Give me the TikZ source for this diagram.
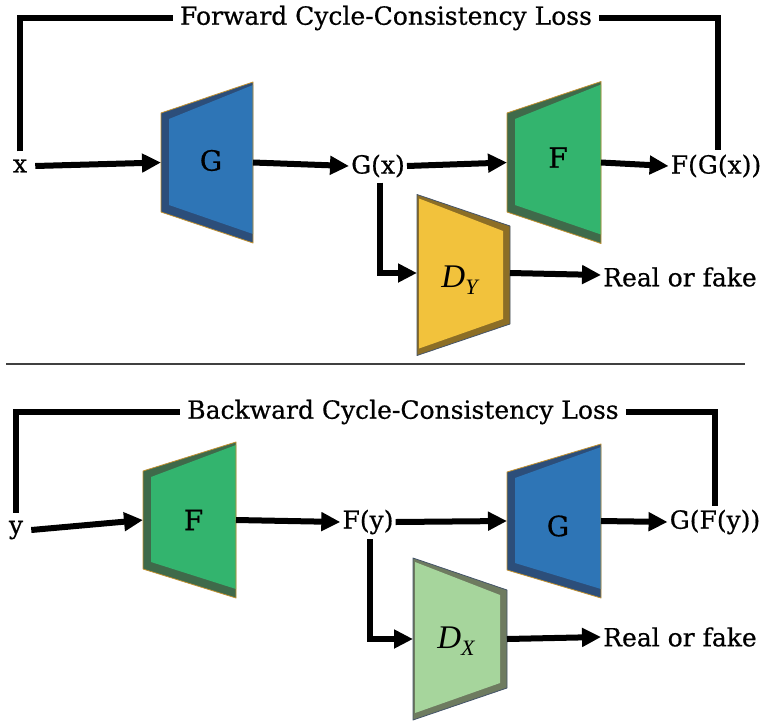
\documentclass[tikz,border=0pt]{standalone}
\usepackage{fontspec}
\setmainfont[FakeBold=0.6]{DejaVu Serif}
\newfontfamily\symfont{Liberation Serif}
\usetikzlibrary{arrows.meta}

\definecolor{genblue}{HTML}{2E75B6}
\definecolor{genblueband}{HTML}{2C4E7A}
\definecolor{gengreen}{HTML}{33B46E}
\definecolor{gengreenband}{HTML}{3F6A4A}
\definecolor{discyellow}{HTML}{F2C23C}
\definecolor{discyellowband}{HTML}{8C6E26}
\definecolor{disclight}{HTML}{A6D59C}
\definecolor{disclightband}{HTML}{6E7B60}
\definecolor{goldedge}{HTML}{C09030}
\definecolor{slateedge}{HTML}{44546A}

% italic D with a lowered subscript letter
\newcommand{\discname}[1]{{\symfont\itshape D\raisebox{-7pt}{\fontsize{22}{24}\selectfont #1}}}

% generator block: narrow on the left, wide on the right
% #1 name, #2 left x, #3 right x, #4 centre y, #5 left half height,
% #6 right half height, #7 face colour, #8 band colour, #9 edge colour
\newcommand{\genblock}[9]{%
  \fill[#8] (#2,#4-#5) -- (#3,#4-#6) -- (#3,#4+#6) -- (#2,#4+#5) -- cycle;
  \fill[#7] (#2+8,#4-#5+6) -- (#3,#4-#6+3) -- (#3,#4+#6-9) -- (#2+8,#4+#5-7) -- cycle;
  \draw[#9,line width=0.8pt,line join=round] (#2,#4-#5) -- (#3,#4-#6) -- (#3,#4+#6) -- (#2,#4+#5) -- cycle;
  \coordinate (#1-w) at (#2,#4);
  \coordinate (#1-e) at (#3,#4);
  \coordinate (#1-c) at (#2/2+#3/2+4,#4);
}
% discriminator block: wide on the left, narrow on the right
\newcommand{\discblock}[9]{%
  \fill[#8] (#2,#4-#5) -- (#3,#4-#6) -- (#3,#4+#6) -- (#2,#4+#5) -- cycle;
  \fill[#7] (#2+2,#4-#5+4) -- (#3-7,#4-#6+5) -- (#3-7,#4+#6-5) -- (#2+2,#4+#5-7) -- cycle;
  \draw[#9,line width=0.8pt,line join=round] (#2,#4-#5) -- (#3,#4-#6) -- (#3,#4+#6) -- (#2,#4+#5) -- cycle;
  \coordinate (#1-w) at (#2,#4);
  \coordinate (#1-e) at (#3,#4);
  \coordinate (#1-c) at (#2/2+#3/2-4,#4);
}

\begin{document}
\begin{tikzpicture}[x=1pt,y=-1pt,
  lbl/.style={font=\fontsize{25}{29}\selectfont, inner sep=2pt},
  blk/.style={font=\fontsize{28}{32}\selectfont, inner sep=0pt},
  dlbl/.style={font=\fontsize{33}{37}\selectfont, inner sep=0pt},
  ttl/.style={font=\fontsize{25}{29}\selectfont, inner sep=7pt},
  flow/.style={line width=6pt, -{Triangle[length=19pt,width=18pt]}},
  bracket/.style={line width=6pt, line join=miter},
  sep/.style={draw=black!75, line width=1.5pt}]
\useasboundingbox (0,0) rectangle (765,720);

% ---------- forward cycle ----------
\genblock{gA}{161}{253}{162.5}{49.5}{80.5}{genblue}{genblueband}{goldedge}
\genblock{fA}{507}{601}{162.5}{49.5}{81}{gengreen}{gengreenband}{goldedge}
\discblock{dy}{417}{510}{275}{80.5}{49}{discyellow}{discyellowband}{slateedge}

\node[blk] (gAl) at ([yshift=2pt]gA-c) {G};
\node[blk] (fAl) at ([yshift=5pt]fA-c) {F};
\node[dlbl] (dyl) at ([yshift=-5pt]dy-c) {\discname{Y}};

\node[lbl] (x) at (20,166) {x};
\node[lbl] (gx) at (378,166) {G(x)};
\node[lbl] (fgx) at (716,166) {F(G(x))};
\node[lbl] (rfA) at (680,277) {Real or fake};
\node[ttl] (ttlA) at (386,18) {Forward Cycle-Consistency Loss};

\draw[flow] ([xshift=6pt]x.east) -- (gA-w);
\draw[flow] (gA-e) -- (gx.west);
\draw[flow] (gx.east) -- (fA-w);
\draw[flow] (fA-e) -- (fgx.west);
\draw[flow] ([xshift=2pt,yshift=-3pt]gx.south) |- ([yshift=2pt]dy-w);
\draw[flow] ([yshift=2pt]dy-e) -- ([yshift=2pt]rfA.west);
\draw[bracket] ([yshift=6pt]x.north) |- (ttlA.west);
\draw[bracket] (ttlA.east) -| ([xshift=2pt,yshift=2pt]fgx.north);

% ---------- separator ----------
\coordinate (sepL) at (6,364);
\coordinate (sepR) at (745,364);
\draw[sep] (sepL) -- (sepR);

% ---------- backward cycle ----------
\genblock{fB}{143}{236}{520}{49}{78}{gengreen}{gengreenband}{goldedge}
\genblock{gB}{507}{601}{521}{49}{77}{genblue}{genblueband}{goldedge}
\discblock{dx}{413}{507}{639}{81}{49}{disclight}{disclightband}{slateedge}

\node[blk] (fBl) at (fB-c) {F};
\node[blk] (gBl) at ([yshift=-5pt]gB-c) {G};
\node[dlbl] (dxl) at ([yshift=-2pt]dx-c) {\discname{X}};

\node[lbl] (y) at (16,530) {y};
\node[lbl] (fy) at (368,522) {F(y)};
\node[lbl] (gfy) at (715,522) {G(F(y))};
\node[lbl] (rfB) at (680,637) {Real or fake};
\node[ttl] (ttlB) at (403,412) {Backward Cycle-Consistency Loss};

\draw[flow] ([xshift=6pt]y.east) -- (fB-w);
\draw[flow] (fB-e) -- (fy.west);
\draw[flow] (fy.east) -- (gB-w);
\draw[flow] (gB-e) -- (gfy.west);
\draw[flow] ([xshift=2pt,yshift=-3pt]fy.south) |- (dx-w);
\draw[flow] (dx-e) -- (rfB.west);
\draw[bracket] ([yshift=6pt]y.north) |- (ttlB.west);
\draw[bracket] (ttlB.east) -| ([yshift=2pt]gfy.north);
\end{tikzpicture}
\end{document}
